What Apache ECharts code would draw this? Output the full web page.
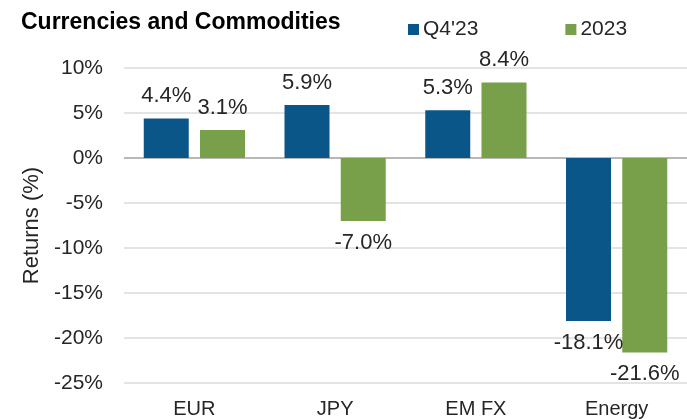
<!DOCTYPE html>
<html>
<head>
<meta charset="utf-8">
<script src="https://cdn.jsdelivr.net/npm/echarts@6/dist/echarts.min.js"></script>
<style>
  html, body { margin: 0; padding: 0; background: #fff; }
  #main { width: 687px; height: 419px; }
</style>
</head>
<body>
<div id="main"></div>
<script>
const categories = ['EUR', 'JPY', 'EM FX', 'Energy']
const q4Values = [4.4, 5.9, 5.3, -18.1]
const yearValues = [3.1, -7.0, 8.4, -21.6]
const seriesNames = ["Q4'23", '2023']

const FONT = 'Liberation Sans, Arial, sans-serif'
const TEXT = '#262626'

// negative bars get their label under the bar
function toData(values) {
    return values.map(v => ({
        value: v,
        label: { position: v < 0 ? 'bottom' : 'top' }
    }))
}

function barSeries(name, values, color) {
    return {
        name: name,
        type: 'bar',
        barWidth: 45,
        barGap: '25%',
        itemStyle: { color: color },
        label: {
            show: true,
            distance: 11,
            fontFamily: FONT,
            fontSize: 22,
            color: TEXT,
            formatter: p => p.value.toFixed(1) + '%'
        },
        data: toData(values)
    }
}

const chart = echarts.init(document.getElementById('main'))
chart.setOption({
    animation: false,
    title: {
        text: 'Currencies and Commodities',
        left: 16,
        top: 6,
        textStyle: { fontFamily: FONT, fontSize: 23, fontWeight: 'bold', color: '#000' }
    },
    legend: {
        left: 403,
        top: 14,
        itemGap: 87,
        itemWidth: 11,
        itemHeight: 11,
        icon: 'rect',
        data: seriesNames,
        textStyle: { fontFamily: FONT, fontSize: 21, color: TEXT, padding: [0, 0, 0, -1] }
    },
    grid: { left: 124, right: -9, top: 68, bottom: 34 },
    xAxis: {
        type: 'category',
        data: categories,
        axisLine: { show: false },
        axisTick: { show: false },
        axisLabel: { fontFamily: FONT, fontSize: 20, color: TEXT, margin: 16 }
    },
    yAxis: {
        type: 'value',
        min: -25,
        max: 10,
        interval: 5,
        name: 'Returns (%)',
        nameLocation: 'middle',
        nameGap: 80,
        nameTextStyle: { fontFamily: FONT, fontSize: 22, color: TEXT },
        axisLine: { show: false },
        axisTick: { show: false },
        axisLabel: {
            fontFamily: FONT, fontSize: 21, color: TEXT, margin: 21,
            formatter: v => v + '%'
        },
        splitLine: {
            lineStyle: {
                width: 2,
                color: ['#e4e4e4', '#e4e4e4', '#e4e4e4', '#e4e4e4', '#e4e4e4', '#b8b8b8', '#e4e4e4', '#e4e4e4']
            }
        }
    },
    series: [
        barSeries(seriesNames[0], q4Values, '#0b5688'),
        barSeries(seriesNames[1], yearValues, '#78a04a')
    ]
})
</script>
</body>
</html>
